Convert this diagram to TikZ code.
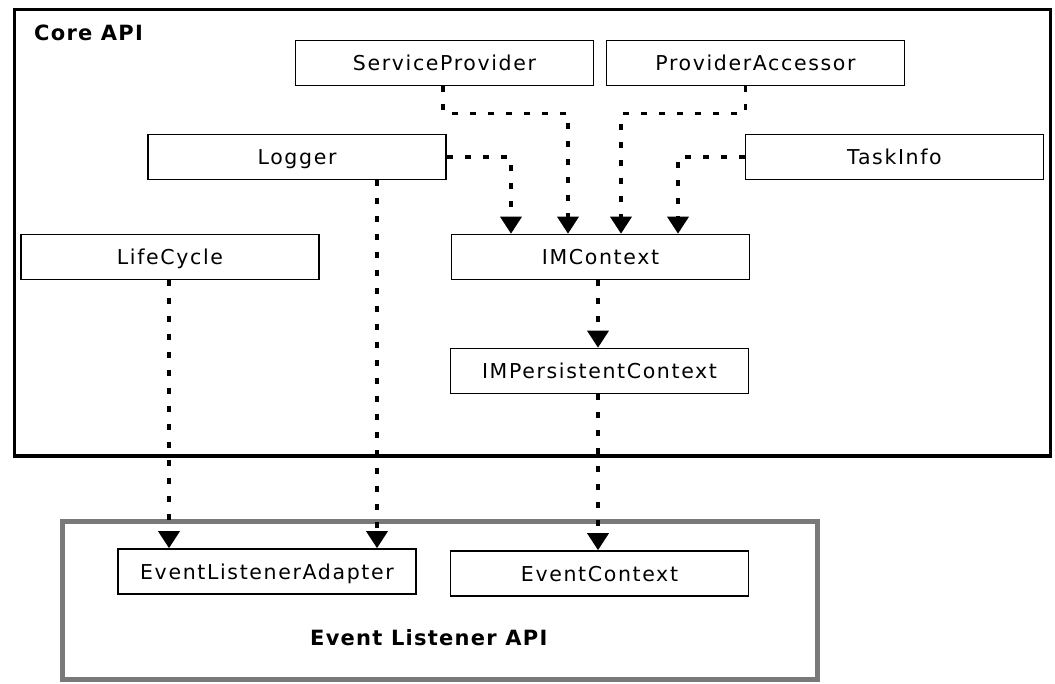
\documentclass[tikz,border=0pt]{standalone}
\usepackage{fontspec}
\usetikzlibrary{arrows.meta,calc}
\newfontfamily\boxfont{DejaVu Sans}[LetterSpace=8]
\newfontfamily\titlefont{DejaVu Sans}[LetterSpace=6]
\begin{document}
\begin{tikzpicture}[x=1pt,y=-1pt,
  cls/.style={draw=black,line width=1.6pt,fill=white,minimum width=298pt,minimum height=45pt,
    inner sep=0pt,text height=15pt,text depth=0pt,font=\boxfont\fontsize{20.5}{24}\selectfont},
  dep/.style={line width=3.5pt,dash pattern=on 6pt off 12pt,
    -{Triangle[width=21pt,length=17pt]}},
  title/.style={anchor=base west,inner sep=0pt,font=\titlefont\bfseries\fontsize{21}{25}\selectfont}]
\useasboundingbox (0,0) rectangle (1055,683);
\fill[white] (0,0) rectangle (1055,683);
% containers
\draw[line width=3.5pt,black] (14.5,9.5) rectangle (1050.5,456);
\draw[line width=5pt,gray!95!black] (62.5,521.5) rectangle (817.5,679);
\node[title] (core) at (34,40) {Core API};
\node[title] (evapi) at (310,645) {Event Listener API};
% classes
\node[cls] (SP) at (444.5,63) {ServiceProvider};
\node[cls] (PA) at (755.5,63) {ProviderAccessor};
\node[cls] (LG) at (297,157) {Logger};
\node[cls] (TI) at (894.5,157) {TaskInfo};
\node[cls] (LC) at (170,257) {LifeCycle};
\node[cls] (IMC) at (600.5,257) {IMContext};
\node[cls] (IMP) at (599.5,371) {IMPersistentContext};
\node[cls] (ELA) at (267,571.5) {EventListenerAdapter};
\node[cls] (EC) at (599.5,573.5) {EventContext};
% dependencies
\draw[dep] ([xshift=-1.5pt]SP.south) -- ++(0,27) -| ([xshift=-32.5pt]IMC.north);
\draw[dep] ([xshift=-10pt]PA.south) -- ++(0,27) -| ([xshift=20.5pt]IMC.north);
\draw[dep] (LG.east) -| ([xshift=-89.5pt]IMC.north);
\draw[dep] (TI.west) -| ([xshift=77.5pt]IMC.north);
\draw[dep] ([xshift=-2.5pt]IMC.south) -- ([xshift=-1.5pt]IMP.north);
\draw[dep] ([xshift=-1.5pt]IMP.south) -- ([xshift=-1.5pt]EC.north);
\draw[dep] ([xshift=-1pt]LC.south) -- ([xshift=-1pt]LC.south |- ELA.north);
\draw[dep] ([xshift=80pt]LG.south) -- ([xshift=80pt]LG.south |- ELA.north);
\end{tikzpicture}
\end{document}
